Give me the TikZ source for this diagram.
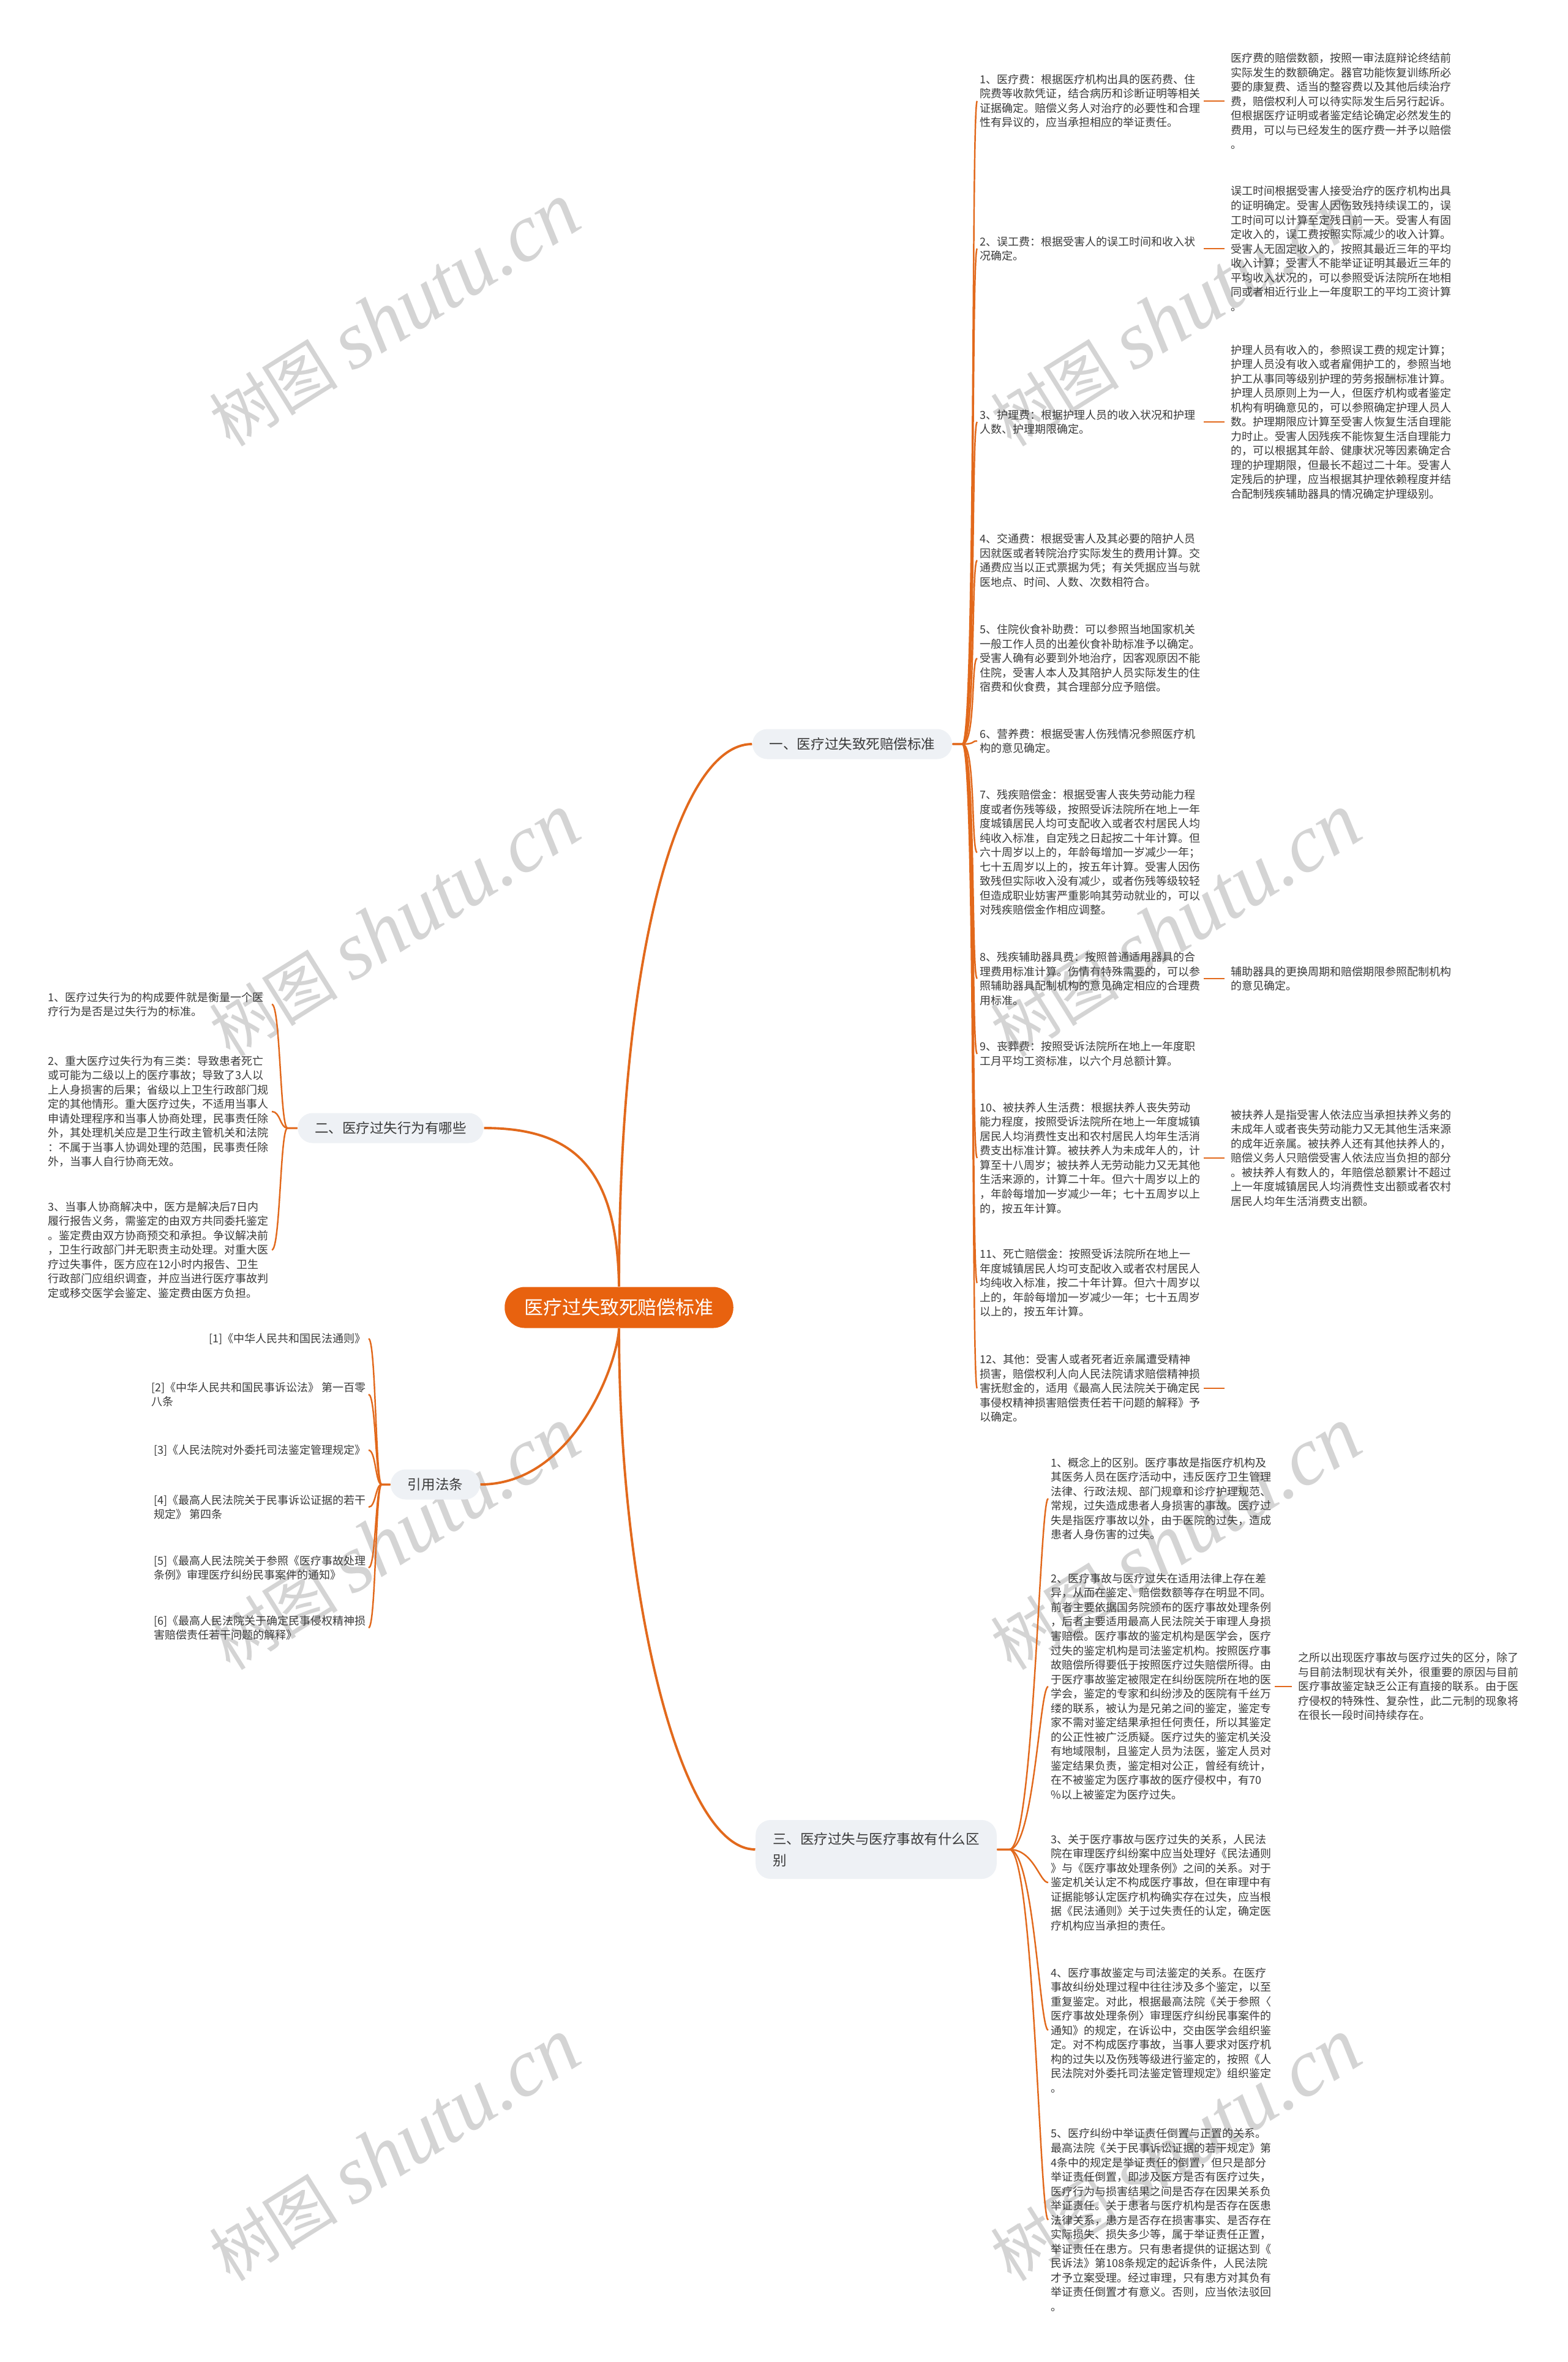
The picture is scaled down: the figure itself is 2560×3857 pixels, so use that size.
\documentclass[tikz,border=0pt]{standalone}
\usepackage{fontspec}
\setmainfont{Noto Sans CJK SC}
\newfontfamily\wmlatin{Liberation Serif}
\usepackage{xcolor}
\definecolor{rootfill}{HTML}{E8620F}
\definecolor{linkcol}{HTML}{E2691C}
\definecolor{topicbg}{HTML}{EEF1F5}
\definecolor{bodytext}{HTML}{3A3A3A}
\definecolor{wmgray}{HTML}{D4D4D4}

\begin{document}
\begin{tikzpicture}[
    x=0.01cm, y=-0.01cm,
    every node/.style={text=bodytext},
    root/.style={fill=rootfill, text=white, rounded corners=0.33cm,
                 minimum height=0.67cm, inner xsep=0.32cm,
                 font=\fontsize{8.8pt}{10pt}\selectfont},
    topic/.style={fill=topicbg, rounded corners=0.245cm, minimum height=0.49cm,
                  inner xsep=0.28cm, align=left,
                  font=\fontsize{6.4pt}{10pt}\selectfont},
    leaf/.style={align=left, inner xsep=0.04cm, inner ysep=0pt,
                 font=\fontsize{5.12pt}{6.69pt}\selectfont},
    wide/.style={leaf, text width=102.6pt},
    link/.style={draw=linkcol, line width=0.7pt},
    trunk/.style={draw=linkcol, line width=1.1pt},
    wmark/.style={text=wmgray, rotate=32, font=\fontsize{30pt}{30pt}\selectfont}
]
    \fill[white] (0,0) rectangle (2560,3857);
    \useasboundingbox (0,0) rectangle (2560,3857);

    \foreach \wx in {644,1920}
      \foreach \wy in {515,1512,2513,3511}
        \node[wmark] (wm-\wx-\wy) at (\wx,\wy)
            {树图 {\wmlatin\itshape\fontsize{38pt}{38pt}\selectfont shutu.cn}};

    \node[root] (root) at (1011,2135) {医疗过失致死赔偿标准};

    \node[topic] (t1) at (1392,1215) {一、医疗过失致死赔偿标准};
    \node[topic] (t2) at (638,1842) {二、医疗过失行为有哪些};
    \node[topic] (t3) at (711,2424) {引用法条};
    \node[topic, inner ysep=0.2cm] (t4) at (1431,3020)
        {三、医疗过失与医疗事故有什么区\\别};

    \draw[trunk] (root.north) .. controls (1011,1550) and (1110,1215) .. (t1.west);
    \draw[trunk] (t2.east) .. controls (935,1842) and (1008,1905) .. (root.north);
    \draw[trunk] (root.south) .. controls (1011,2600) and (1110,3020) .. (t4.west);
    \draw[trunk] (t3.east) .. controls (935,2424) and (1008,2230) .. (root.south);

    \node[wide, anchor=west] (a1) at (1596,165)
        {1、医疗费：根据医疗机构出具的医药费、住\\院费等收款凭证，结合病历和诊断证明等相关\\证据确定。赔偿义务人对治疗的必要性和合理\\性有异议的，应当承担相应的举证责任。};
    \node[wide, anchor=west] (a2) at (1596,406)
        {2、误工费：根据受害人的误工时间和收入状\\况确定。};
    \node[wide, anchor=west] (a3) at (1596,689)
        {3、护理费：根据护理人员的收入状况和护理\\人数、护理期限确定。};
    \node[wide, anchor=west] (a4) at (1596,915)
        {4、交通费：根据受害人及其必要的陪护人员\\因就医或者转院治疗实际发生的费用计算。交\\通费应当以正式票据为凭；有关凭据应当与就\\医地点、时间、人数、次数相符合。};
    \node[wide, anchor=west] (a5) at (1596,1075)
        {5、住院伙食补助费：可以参照当地国家机关\\一般工作人员的出差伙食补助标准予以确定。\\受害人确有必要到外地治疗，因客观原因不能\\住院，受害人本人及其陪护人员实际发生的住\\宿费和伙食费，其合理部分应予赔偿。};
    \node[wide, anchor=west] (a6) at (1596,1210)
        {6、营养费：根据受害人伤残情况参照医疗机\\构的意见确定。};
    \node[wide, anchor=west] (a7) at (1596,1392)
        {7、残疾赔偿金：根据受害人丧失劳动能力程\\度或者伤残等级，按照受诉法院所在地上一年\\度城镇居民人均可支配收入或者农村居民人均\\纯收入标准，自定残之日起按二十年计算。但\\六十周岁以上的，年龄每增加一岁减少一年；\\七十五周岁以上的，按五年计算。受害人因伤\\致残但实际收入没有减少，或者伤残等级较轻\\但造成职业妨害严重影响其劳动就业的，可以\\对残疾赔偿金作相应调整。};
    \node[wide, anchor=west] (a8) at (1596,1598)
        {8、残疾辅助器具费：按照普通适用器具的合\\理费用标准计算。伤情有特殊需要的，可以参\\照辅助器具配制机构的意见确定相应的合理费\\用标准。};
    \node[wide, anchor=west] (a9) at (1596,1721)
        {9、丧葬费：按照受诉法院所在地上一年度职\\工月平均工资标准，以六个月总额计算。};
    \node[wide, anchor=west] (a10) at (1596,1891)
        {10、被扶养人生活费：根据扶养人丧失劳动\\能力程度，按照受诉法院所在地上一年度城镇\\居民人均消费性支出和农村居民人均年生活消\\费支出标准计算。被扶养人为未成年人的，计\\算至十八周岁；被扶养人无劳动能力又无其他\\生活来源的，计算二十年。但六十周岁以上的\\，年龄每增加一岁减少一年；七十五周岁以上\\的，按五年计算。};
    \node[wide, anchor=west] (a11) at (1596,2095)
        {11、死亡赔偿金：按照受诉法院所在地上一\\年度城镇居民人均可支配收入或者农村居民人\\均纯收入标准，按二十年计算。但六十周岁以\\上的，年龄每增加一岁减少一年；七十五周岁\\以上的，按五年计算。};
    \node[wide, anchor=west] (a12) at (1596,2267)
        {12、其他：受害人或者死者近亲属遭受精神\\损害，赔偿权利人向人民法院请求赔偿精神损\\害抚慰金的，适用《最高人民法院关于确定民\\事侵权精神损害赔偿责任若干问题的解释》予\\以确定。};

    \node[wide, anchor=west] (b1) at (2006,165)
        {医疗费的赔偿数额，按照一审法庭辩论终结前\\实际发生的数额确定。器官功能恢复训练所必\\要的康复费、适当的整容费以及其他后续治疗\\费，赔偿权利人可以待实际发生后另行起诉。\\但根据医疗证明或者鉴定结论确定必然发生的\\费用，可以与已经发生的医疗费一并予以赔偿\\。};
    \node[wide, anchor=west] (b2) at (2006,406)
        {误工时间根据受害人接受治疗的医疗机构出具\\的证明确定。受害人因伤致残持续误工的，误\\工时间可以计算至定残日前一天。受害人有固\\定收入的，误工费按照实际减少的收入计算。\\受害人无固定收入的，按照其最近三年的平均\\收入计算；受害人不能举证证明其最近三年的\\平均收入状况的，可以参照受诉法院所在地相\\同或者相近行业上一年度职工的平均工资计算\\。};
    \node[wide, anchor=west] (b3) at (2006,689)
        {护理人员有收入的，参照误工费的规定计算；\\护理人员没有收入或者雇佣护工的，参照当地\\护工从事同等级别护理的劳务报酬标准计算。\\护理人员原则上为一人，但医疗机构或者鉴定\\机构有明确意见的，可以参照确定护理人员人\\数。护理期限应计算至受害人恢复生活自理能\\力时止。受害人因残疾不能恢复生活自理能力\\的，可以根据其年龄、健康状况等因素确定合\\理的护理期限，但最长不超过二十年。受害人\\定残后的护理，应当根据其护理依赖程度并结\\合配制残疾辅助器具的情况确定护理级别。};
    \node[wide, anchor=west] (b8) at (2006,1598)
        {辅助器具的更换周期和赔偿期限参照配制机构\\的意见确定。};
    \node[wide, anchor=west] (b10) at (2006,1891)
        {被扶养人是指受害人依法应当承担扶养义务的\\未成年人或者丧失劳动能力又无其他生活来源\\的成年近亲属。被扶养人还有其他扶养人的，\\赔偿义务人只赔偿受害人依法应当负担的部分\\。被扶养人有数人的，年赔偿总额累计不超过\\上一年度城镇居民人均消费性支出额或者农村\\居民人均年生活消费支出额。};
    \coordinate (a12end) at (2000,2267);

    \foreach \i in {1,...,12}
        \draw[link] (t1.east) -- ++(16,0) .. controls +(22,0) and +(-10,0) .. (a\i.west);
    \foreach \i in {1,2,3,8,10}
        \draw[link, shorten >=0.06cm] (a\i.east) -- (b\i.west);
    \draw[link] (a12.east) -- (a12end);

    \node[wide, anchor=east] (c1) at (444,1640)
        {1、医疗过失行为的构成要件就是衡量一个医\\疗行为是否是过失行为的标准。};
    \node[wide, anchor=east] (c2) at (444,1815)
        {2、重大医疗过失行为有三类：导致患者死亡\\或可能为二级以上的医疗事故；导致了3人以\\上人身损害的后果；省级以上卫生行政部门规\\定的其他情形。重大医疗过失，不适用当事人\\申请处理程序和当事人协商处理，民事责任除\\外，其处理机关应是卫生行政主管机关和法院\\：不属于当事人协调处理的范围，民事责任除\\外，当事人自行协商无效。};
    \node[wide, anchor=east] (c3) at (444,2041)
        {3、当事人协商解决中，医方是解决后7日内\\履行报告义务，需鉴定的由双方共同委托鉴定\\。鉴定费由双方协商预交和承担。争议解决前\\，卫生行政部门并无职责主动处理。对重大医\\疗过失事件，医方应在12小时内报告、卫生\\行政部门应组织调查，并应当进行医疗事故判\\定或移交医学会鉴定、鉴定费由医方负担。};

    \foreach \i in {1,2,3}
        \draw[link] (t2.west) -- ++(-16,0) .. controls +(-12,0) and +(14,0) .. (c\i.east);

    \node[leaf, anchor=east] (d1) at (602,2186) {[1]《中华人民共和国民法通则》};
    \node[leaf, anchor=east] (d2) at (602,2277) {[2]《中华人民共和国民事诉讼法》 第一百零\\八条};
    \node[leaf, anchor=east] (d3) at (602,2368) {[3]《人民法院对外委托司法鉴定管理规定》};
    \node[leaf, anchor=east] (d4) at (602,2461) {[4]《最高人民法院关于民事诉讼证据的若干\\规定》 第四条};
    \node[leaf, anchor=east] (d5) at (602,2560) {[5]《最高人民法院关于参照《医疗事故处理\\条例》审理医疗纠纷民事案件的通知》};
    \node[leaf, anchor=east] (d6) at (602,2658) {[6]《最高人民法院关于确定民事侵权精神损\\害赔偿责任若干问题的解释》};

    \foreach \i in {1,...,6}
        \draw[link] (t3.west) -- ++(-14,0) .. controls +(-10,0) and +(12,0) .. (d\i.east);

    \node[wide, anchor=west] (e1) at (1712,2447)
        {1、概念上的区别。医疗事故是指医疗机构及\\其医务人员在医疗活动中，违反医疗卫生管理\\法律、行政法规、部门规章和诊疗护理规范、\\常规，过失造成患者人身损害的事故。医疗过\\失是指医疗事故以外，由于医院的过失，造成\\患者人身伤害的过失。};
    \node[wide, anchor=west] (e2) at (1712,2754)
        {2、医疗事故与医疗过失在适用法律上存在差\\异，从而在鉴定、赔偿数额等存在明显不同。\\前者主要依据国务院颁布的医疗事故处理条例\\，后者主要适用最高人民法院关于审理人身损\\害赔偿。医疗事故的鉴定机构是医学会，医疗\\过失的鉴定机构是司法鉴定机构。按照医疗事\\故赔偿所得要低于按照医疗过失赔偿所得。由\\于医疗事故鉴定被限定在纠纷医院所在地的医\\学会，鉴定的专家和纠纷涉及的医院有千丝万\\缕的联系，被认为是兄弟之间的鉴定，鉴定专\\家不需对鉴定结果承担任何责任，所以其鉴定\\的公正性被广泛质疑。医疗过失的鉴定机关没\\有地域限制，且鉴定人员为法医，鉴定人员对\\鉴定结果负责，鉴定相对公正，曾经有统计，\\在不被鉴定为医疗事故的医疗侵权中，有70\\\%以上被鉴定为医疗过失。};
    \node[wide, anchor=west] (e3) at (1712,3074)
        {3、关于医疗事故与医疗过失的关系，人民法\\院在审理医疗纠纷案中应当处理好《民法通则\\》与《医疗事故处理条例》之间的关系。对于\\鉴定机关认定不构成医疗事故，但在审理中有\\证据能够认定医疗机构确实存在过失，应当根\\据《民法通则》关于过失责任的认定，确定医\\疗机构应当承担的责任。};
    \node[wide, anchor=west] (e4) at (1712,3315)
        {4、医疗事故鉴定与司法鉴定的关系。在医疗\\事故纠纷处理过程中往往涉及多个鉴定，以至\\重复鉴定。对此，根据最高法院《关于参照〈\\医疗事故处理条例〉审理医疗纠纷民事案件的\\通知》的规定，在诉讼中，交由医学会组织鉴\\定。对不构成医疗事故，当事人要求对医疗机\\构的过失以及伤残等级进行鉴定的，按照《人\\民法院对外委托司法鉴定管理规定》组织鉴定\\。};
    \node[wide, anchor=west] (e5) at (1712,3625)
        {5、医疗纠纷中举证责任倒置与正置的关系。\\最高法院《关于民事诉讼证据的若干规定》第\\4条中的规定是举证责任的倒置，但只是部分\\举证责任倒置，即涉及医方是否有医疗过失，\\医疗行为与损害结果之间是否存在因果关系负\\举证责任。关于患者与医疗机构是否存在医患\\法律关系，患方是否存在损害事实、是否存在\\实际损失、损失多少等，属于举证责任正置，\\举证责任在患方。只有患者提供的证据达到《\\民诉法》第108条规定的起诉条件，人民法院\\才予立案受理。经过审理，只有患方对其负有\\举证责任倒置才有意义。否则，应当依法驳回\\。};
    \node[wide, anchor=west] (f2) at (2116,2754)
        {之所以出现医疗事故与医疗过失的区分，除了\\与目前法制现状有关外，很重要的原因与目前\\医疗事故鉴定缺乏公正有直接的联系。由于医\\疗侵权的特殊性、复杂性，此二元制的现象将\\在很长一段时间持续存在。};

    \foreach \i in {1,...,5}
        \draw[link] (t4.east) -- ++(20,0) .. controls +(40,0) and +(-14,0) .. (e\i.west);
    \draw[link, shorten >=0.06cm] (e2.east) -- (f2.west);
\end{tikzpicture}
\end{document}
